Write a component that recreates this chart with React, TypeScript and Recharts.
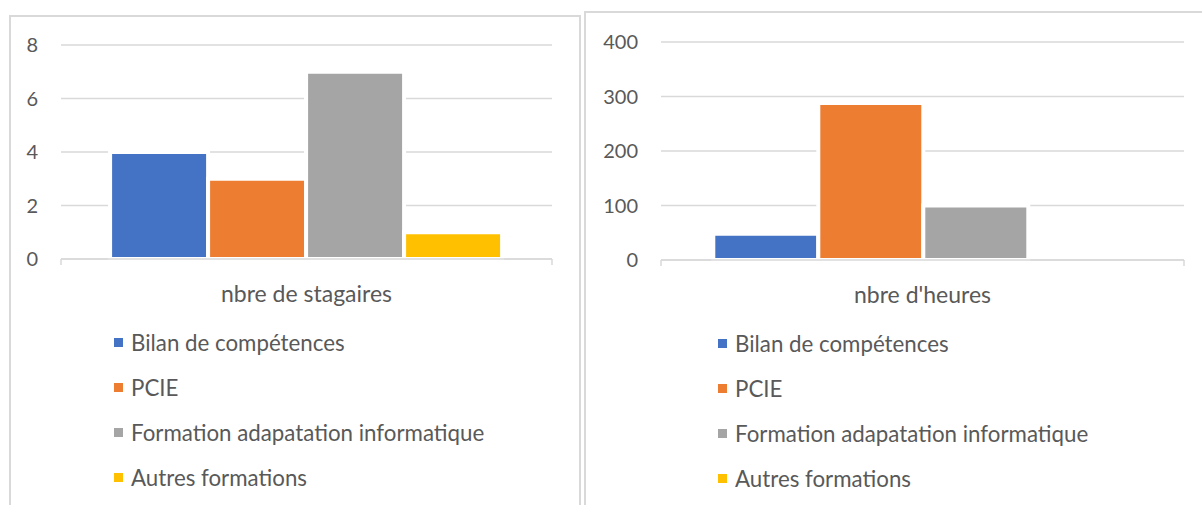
import React from 'react';
import { BarChart, Bar, XAxis, YAxis, CartesianGrid, Legend } from 'recharts';

// series (formations) shared by both charts
const SERIES = ['Bilan de compétences', 'PCIE', 'Formation adapatation informatique', 'Autres formations'];
const COLORS = ['#4472C4', '#ED7D31', '#A5A5A5', '#FFC000'];

const CAT_STAGIAIRES = 'nbre de stagaires';
const VAL_STAGIAIRES = [4, 3, 7, 1];
const TICKS_STAGIAIRES = [0, 2, 4, 6, 8];

const CAT_HEURES = "nbre d'heures";
const VAL_HEURES: (number | null)[] = [48, 288, 100, null];
const TICKS_HEURES = [0, 100, 200, 300, 400];

const TEXT = '#595959';
const GRID = '#D9D9D9';
const FONT = 'Lato, "Open Sans", sans-serif';

const toRow = (cat: string, vals: (number | null)[]) => {
  const row: Record<string, string | number | null> = { cat };
  vals.forEach((v, i) => { row[`s${i}`] = v; });
  return [row];
};

// keep the series order (recharts sorts the legend by name otherwise)
const LegendList = ({ payload }: any) => {
  const items = [...(payload || [])].sort((a: any, b: any) => SERIES.indexOf(a.value) - SERIES.indexOf(b.value));
  return (
    <div style={{ fontFamily: FONT, fontSize: 22.3, color: TEXT }}>
      {items.map((p: any) => (
        <div key={p.value} style={{ display: 'flex', alignItems: 'center', height: 45, whiteSpace: 'nowrap' }}>
          <span style={{ display: 'inline-block', width: 9, height: 9, background: p.color, marginRight: 8 }} />
          <span>{p.value}</span>
        </div>
      ))}
    </div>
  );
};

// category label plus the two small boundary ticks Excel draws at the axis ends
const CategoryTick = ({ x, y, payload, plotWidth }: any) => {
  const half = plotWidth / 2;
  return (
    <g>
      <line x1={x - half} x2={x - half} y1={y} y2={y + 6} stroke={GRID} strokeWidth={1.5} />
      <line x1={x + half} x2={x + half} y1={y} y2={y + 6} stroke={GRID} strokeWidth={1.5} />
      <text x={x} y={y + 35} dy="0.355em" textAnchor="middle" fill={TEXT} fontSize={23} fontFamily={FONT}>
        {payload.value}
      </text>
    </g>
  );
};

interface PanelProps {
  cat: string;
  values: (number | null)[];
  ticks: number[];
  width: number;
  margin: { top: number; right: number; bottom: number; left: number };
  yWidth: number;
  legendPos: { left: number; top: number };
}

function Panel({ cat, values, ticks, width, margin, yWidth, legendPos }: PanelProps) {
  const plotWidth = width - margin.left - margin.right - yWidth;
  return (
    <BarChart width={width} height={505} data={toRow(cat, values)} margin={margin}
      barCategoryGap="10%" barGap={0}>
      <CartesianGrid vertical={false} stroke={GRID} strokeWidth={1.5} />
      <XAxis dataKey="cat" height={30} axisLine={{ stroke: GRID, strokeWidth: 1.5 }} tickLine={false}
        tickSize={0} tickMargin={0} interval={0}
        tick={(p: any) => <CategoryTick {...p} plotWidth={plotWidth} />} />
      <YAxis width={yWidth} domain={[ticks[0], ticks[ticks.length - 1]]} ticks={ticks} axisLine={false}
        tickLine={false} tickSize={0} tickMargin={23}
        tick={{ fill: TEXT, fontSize: 20, fontFamily: FONT }} />
      <Legend layout="vertical" align="center" verticalAlign="middle" content={<LegendList />}
        wrapperStyle={{ left: legendPos.left, top: legendPos.top, width: 'auto' }} />
      {SERIES.map((s, i) => (
        <Bar key={s} dataKey={`s${i}`} name={s} fill={COLORS[i]} stroke="#fff" strokeWidth={4}
          isAnimationActive={false} />
      ))}
    </BarChart>
  );
}

export default function App() {
  return (
    <div style={{ position: 'absolute', left: 0, top: 0, width: 1202, height: 505, overflow: 'hidden', background: '#fff', fontFamily: FONT }}>
      <div style={{ position: 'absolute', left: 9, top: 15, width: 572, height: 520, border: '2px solid #D9D9D9', boxSizing: 'border-box' }} />
      <div style={{ position: 'absolute', left: 584, top: 11, width: 640, height: 520, border: '2px solid #D9D9D9', boxSizing: 'border-box' }} />
      <div style={{ position: 'absolute', left: 0, top: 0 }}>
        <Panel cat={CAT_STAGIAIRES} values={VAL_STAGIAIRES} ticks={TICKS_STAGIAIRES} width={581}
          margin={{ top: 45, right: 29, bottom: 216, left: 21 }} yWidth={40}
          legendPos={{ left: 114, top: 320 }} />
      </div>
      <div style={{ position: 'absolute', left: 585, top: 0 }}>
        <Panel cat={CAT_HEURES} values={VAL_HEURES} ticks={TICKS_HEURES} width={617}
          margin={{ top: 42, right: 18, bottom: 215, left: 26 }} yWidth={50}
          legendPos={{ left: 133, top: 321 }} />
      </div>
    </div>
  );
}
